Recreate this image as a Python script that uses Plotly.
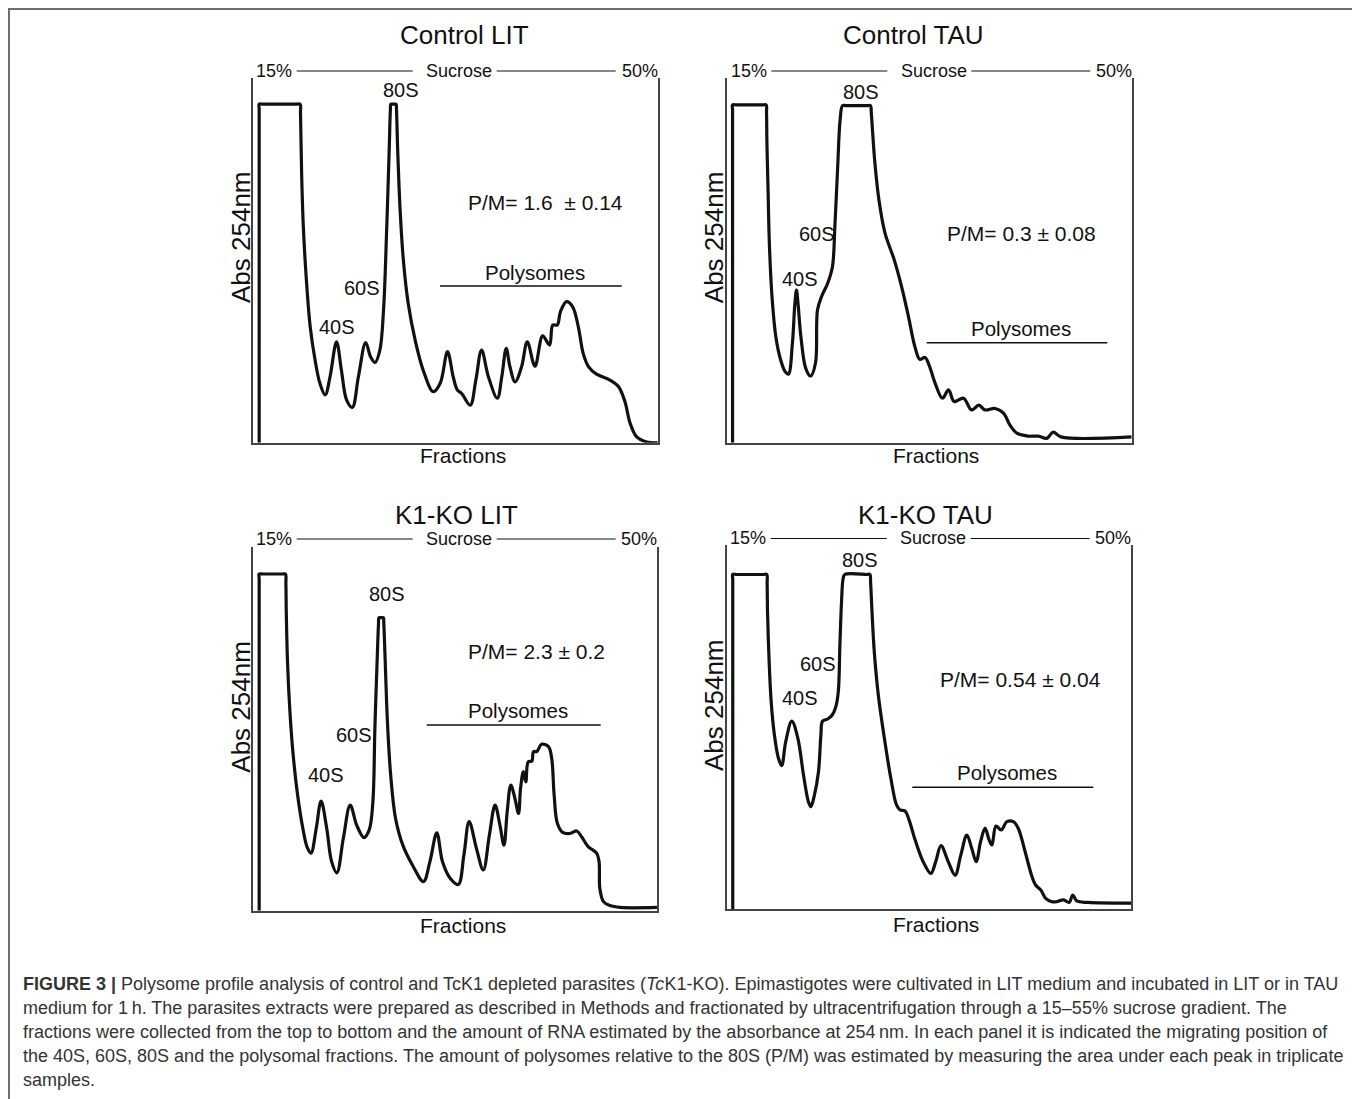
import plotly.graph_objects as go

# The page places the figure 8 px from the top-left corner, so the figure is 8 px smaller
# and all layout positions (measured on the 1360x1099 page) are shifted by that offset.
OFF = 8
W, H = 1360 - OFF, 1099 - OFF
FONT = "Arial, Liberation Sans, sans-serif"

# ---------------- data (fraction position 0-100, absorbance a.u. 0-100) ----------------
ctrl_lit_x = [1.6, 1.6, 1.6, 2.6, 10.8, 11.7, 11.8, 12.1, 12.5, 13.2, 14.2, 15.4, 16.6, 17.9, 19.1, 20.7,
              21.9, 23.2, 24.6, 26.1, 27.9, 29.1, 30.2, 31.4, 32.3, 33.1, 33.7, 34.0, 34.1, 34.4, 35.1,
              35.4, 35.5, 35.8, 36.4, 37.2, 38.4, 40.1, 42.1, 44.6, 46.3, 48.1, 49.5, 50.5, 51.6, 53.7,
              55.1, 56.5, 58.2, 60.4, 61.5, 62.6, 63.5, 64.8, 66.4, 67.8, 69.7, 71.6, 73.3, 74.1, 75.2,
              76.0, 77.5, 79.0, 80.4, 81.6, 82.9, 84.9, 88.2, 90.3, 91.9, 93.2, 94.8, 97.3, 100]
ctrl_lit_y = [0, 91.5, 92.9, 92.9, 92.9, 92.9, 90.5, 73.0, 59.3, 45.6, 31.8, 22.7, 16.3, 13.1, 18.1, 27.7,
              19.9, 11.7, 9.7, 18.1, 27.5, 23.6, 22.0, 25.4, 36.4, 59.3, 80.3, 91.5, 92.9, 92.9, 92.9,
              92.9, 91.5, 80.3, 63.9, 50.1, 38.2, 28.2, 19.9, 14.0, 16.3, 25.0, 18.1, 14.5, 13.5, 10.3,
              17.2, 25.4, 18.1, 12.2, 18.1, 25.9, 20.9, 16.7, 20.9, 27.7, 21.0, 29.3, 26.8, 32.3, 32.3,
              36.0, 38.7, 37.3, 31.8, 24.5, 20.9, 18.8, 17.2, 15.4, 11.3, 5.3, 1.6, 0.2, 0]

ctrl_tau_x = [1.3, 1.3, 1.3, 2.3, 8.7, 9.6, 9.7, 9.8, 10.1, 10.4, 11.0, 12.0, 13.2, 14.3, 15.1, 16.1,
              16.7, 17.1, 17.5, 18.2, 19.4, 20.6, 21.8, 22.3, 23.3, 24.8, 26.0, 26.6, 27.3, 27.9, 28.5,
              29.4, 34.6, 35.4, 35.6, 35.9, 36.5, 37.5, 39.0, 41.3, 43.1, 44.8, 46.4, 47.6, 48.9, 49.9,
              51.4, 53.2, 54.7, 56.1, 58.4, 60.4, 62.2, 63.7, 66.2, 68.3, 69.9, 71.6, 74.4, 76.9, 79.0,
              80.6, 82.5, 100]
ctrl_tau_y = [0, 91.3, 92.7, 92.7, 92.7, 92.7, 90.5, 82.2, 68.4, 54.7, 41.0, 29.1, 22.7, 19.5, 18.8, 27.3,
              38.0, 41.9, 38.0, 29.1, 20.4, 18.3, 21.8, 36.4, 40.1, 43.7, 48.3, 59.3, 75.8, 88.6, 92.5,
              92.5, 92.5, 92.5, 90.5, 85.8, 76.7, 66.6, 57.5, 50.1, 42.8, 34.6, 26.3, 22.9, 23.4, 21.3,
              16.3, 12.2, 14.5, 11.3, 12.2, 9.0, 10.3, 9.0, 9.4, 8.1, 4.8, 2.6, 1.8, 1.8, 1.2,
              2.9, 1.6, 1.6]

ko_lit_x = [1.6, 1.6, 1.6, 2.6, 7.3, 8.1, 8.2, 8.3, 8.6, 9.2, 10.0, 11.1, 12.4, 13.5, 14.4, 15.7, 16.9,
            18.3, 19.5, 20.8, 22.4, 24.1, 25.7, 27.5, 28.8, 29.7, 30.2, 30.8, 31.1, 31.2, 31.5, 32.0,
            32.3, 32.4, 32.7, 33.3, 34.1, 35.3, 37.1, 39.5, 42.2, 43.8, 45.5, 46.9, 48.8, 50.8, 52.2,
            53.5, 55.3, 57.0, 58.5, 59.9, 61.1, 62.1, 62.9, 63.8, 64.8, 65.7, 66.2, 66.9, 67.5, 68.1,
            69.0, 69.4, 70.2, 71.4, 73.1, 73.9, 74.5, 75.3, 76.6, 78.4, 80.1, 81.3, 82.9, 85.0, 85.6,
            85.8, 86.7, 88.3, 90.8, 100]
ko_lit_y = [0, 91.1, 92.5, 92.5, 92.5, 92.5, 90.0, 82.1, 68.4, 54.7, 42.8, 31.8, 22.6, 17.3, 15.8, 22.6,
            30.1, 22.6, 13.5, 10.4, 19.9, 29.0, 23.5, 20.1, 22.2, 29.9, 50.1, 70.2, 79.0, 80.5, 80.5,
            80.5, 80.5, 79.0, 70.2, 51.9, 37.3, 25.4, 18.0, 12.5, 8.0, 13.5, 21.4, 13.5, 8.9, 7.2, 15.3,
            24.5, 17.1, 11.2, 20.8, 29.0, 23.5, 18.0, 27.2, 34.5, 30.9, 26.7, 33.6, 38.2, 35.4, 40.9,
            41.1, 43.7, 43.7, 45.7, 45.1, 41.8, 31.8, 24.0, 21.5, 21.2, 21.9, 20.3, 17.6, 15.8, 13.5,
            6.1, 2.5, 1.4, 0.9, 0.9]

ko_tau_x = [1.5, 1.5, 1.5, 2.5, 9.0, 9.9, 10.0, 10.1, 10.5, 11.0, 11.8, 12.8, 13.6, 14.6, 16.1, 17.6,
            19.0, 20.2, 20.8, 21.7, 22.7, 23.3, 23.7, 25.0, 26.1, 27.0, 27.6, 28.0, 28.4, 28.8, 29.2,
            34.6, 35.4, 35.6, 35.9, 36.5, 37.5, 39.0, 40.6, 42.0, 42.9, 44.1, 45.1, 46.6, 48.6, 50.5,
            51.7, 53.0, 54.8, 56.5, 57.9, 59.4, 60.6, 61.7, 62.8, 63.9, 64.9, 65.6, 66.6, 67.9, 69.3,
            70.9, 72.1, 73.8, 75.4, 76.4, 77.7, 78.9, 80.4, 81.6, 83.3, 84.7, 85.6, 86.6, 89.4, 100]
ko_tau_y = [0, 90.5, 91.9, 91.9, 91.9, 91.9, 89.5, 81.7, 67.9, 57.0, 47.8, 41.4, 39.4, 46.0, 51.6, 46.9,
            36.8, 29.5, 28.1, 31.3, 37.7, 47.8, 51.6, 52.2, 53.3, 55.6, 59.7, 72.5, 84.4, 90.8, 91.9,
            91.9, 91.9, 89.5, 82.6, 70.7, 58.8, 46.9, 35.9, 28.6, 27.2, 26.9, 24.5, 19.0, 13.0, 9.8,
            13.0, 17.4, 13.0, 9.3, 14.8, 20.3, 16.7, 13.0, 18.5, 22.2, 19.0, 17.6, 22.8, 21.7, 24.0,
            24.0, 22.2, 15.8, 9.3, 6.6, 5.2, 2.9, 2.0, 2.0, 2.5, 1.8, 3.8, 2.2, 1.8, 1.6]

titles = ["Control LIT", "Control TAU", "K1-KO LIT", "K1-KO TAU"]
pm_labels = ["P/M= 1.6  \u00b1 0.14", "P/M= 0.3 \u00b1 0.08", "P/M= 2.3 \u00b1 0.2", "P/M= 0.54 \u00b1 0.04"]
peak_names = ["80S", "60S", "40S"]

caption_lines = [
    "<b>FIGURE 3 |</b> Polysome profile analysis of control and TcK1 depleted parasites (<i>Tc</i>K1-KO). "
    "Epimastigotes were cultivated in LIT medium and incubated in LIT or in TAU",
    "medium for 1\u2009h. The parasites extracts were prepared as described in Methods and fractionated by "
    "ultracentrifugation through a 15\u201355% sucrose gradient. The",
    "fractions were collected from the top to bottom and the amount of RNA estimated by the absorbance at "
    "254\u2009nm. In each panel it is indicated the migrating position of",
    "the 40S, 60S, 80S and the polysomal fractions. The amount of polysomes relative to the 80S (P/M) was "
    "estimated by measuring the area under each peak in triplicate",
    "samples.",
]

# ---------------- layout geometry (page pixels) ----------------
panels = [
    dict(x=ctrl_lit_x, y=ctrl_lit_y, box=(252.7, 657.7, 78.3, 442.7), title=(465, 35),
         suc_y=71, abs_xy=(241, 237), frac_xy=(462.5, 455.5), pm_xy=(545, 202),
         poly_xy=(535, 272), poly_line=(440, 621.7, 286),
         peaks=[(401, 90.5), (362, 287.5), (337, 327)]),
    dict(x=ctrl_tau_x, y=ctrl_tau_y, box=(727.3, 1131.7, 78.3, 442.7), title=(913.3, 35),
         suc_y=71, abs_xy=(714.2, 237), frac_xy=(936.2, 455.5), pm_xy=(1021.2, 233.3),
         poly_xy=(1020.8, 328.3), poly_line=(926.7, 1107.3, 342.7),
         peaks=[(860.5, 91.7), (816.7, 233.7), (800, 278.8)]),
    dict(x=ko_lit_x, y=ko_lit_y, box=(252.7, 657.3, 546.7, 910.7), title=(456, 514.5),
         suc_y=539, abs_xy=(241, 706.7), frac_xy=(462.5, 925.7), pm_xy=(536.3, 651),
         poly_xy=(517.8, 710), poly_line=(426.7, 600.7, 725),
         peaks=[(387.2, 594.3), (353.7, 734.7), (325.7, 774.7)]),
    dict(x=ko_tau_x, y=ko_tau_y, box=(726.7, 1131, 545, 909), title=(925.8, 514.5),
         suc_y=538.5, abs_xy=(714, 705), frac_xy=(935.8, 924), pm_xy=(1020, 679.3),
         poly_xy=(1006.7, 772.3), poly_line=(912.3, 1093.3, 787.3),
         peaks=[(860, 560), (818, 663.8), (799.7, 698)]),
]


def px(v):
    return (v - OFF) / W


def py(v):
    return 1 - (v - OFF) / H


fig = go.Figure()
annotations = []
shapes = []


def text(x, y, s, size, color="#111", xanchor="center", angle=0):
    annotations.append(dict(x=px(x), y=py(y), xref="paper", yref="paper", text=s, showarrow=False,
                            xanchor=xanchor, yanchor="middle", textangle=angle, borderpad=0,
                            font=dict(family=FONT, size=size, color=color)))


def hline(x0, x1, y, width=1.2, color="#111"):
    shapes.append(dict(type="line", xref="paper", yref="paper", x0=px(x0), x1=px(x1), y0=py(y), y1=py(y),
                       line=dict(color=color, width=width)))


for i, p in enumerate(panels):
    k = "" if i == 0 else str(i + 1)
    l, r, t, b = p["box"]
    fig.add_trace(go.Scatter(x=p["x"], y=p["y"], mode="lines", xaxis="x" + k, yaxis="y" + k,
                             line=dict(color="#111", width=3.2, shape="spline", smoothing=1),
                             hoverinfo="skip", showlegend=False))
    axcommon = dict(showgrid=False, zeroline=False, showticklabels=False, ticks="", showline=True,
                    linecolor="#444", linewidth=1.6, range=[0, 100], fixedrange=True)
    fig.update_layout(**{
        "xaxis" + k: dict(domain=[px(l), px(r)], anchor="y" + k, **axcommon),
        "yaxis" + k: dict(domain=[py(b), py(t)], anchor="x" + k, mirror=True, **axcommon),
    })
    # title
    text(p["title"][0], p["title"][1], titles[i], 26)
    # sucrose gradient row (offsets relative to panel left edge)
    sy = p["suc_y"]
    text(l + 2.3, sy, "15%", 18, xanchor="left")
    hline(l + 44, l + 160, sy)
    text(l + 206.5, sy, "Sucrose", 18)
    hline(l + 244, l + 363, sy)
    text(r + 0.8, sy, "50%", 18, xanchor="right")
    # axis titles
    text(p["abs_xy"][0], p["abs_xy"][1], "Abs 254nm", 26, angle=-90)
    text(p["frac_xy"][0], p["frac_xy"][1], "Fractions", 21)
    # P/M ratio and polysomes
    text(p["pm_xy"][0], p["pm_xy"][1], pm_labels[i], 21)
    text(p["poly_xy"][0], p["poly_xy"][1], "Polysomes", 20.5)
    pl = p["poly_line"]
    hline(pl[0], pl[1], pl[2], width=1.4)
    for name, (lx, ly) in zip(peak_names, p["peaks"]):
        text(lx, ly, name, 20)

# caption
cap_y = [984, 1008, 1032, 1056, 1080]
for s, y in zip(caption_lines, cap_y):
    text(22, y, s, 18, color="#333", xanchor="left")

# outer frame
shapes.append(dict(type="rect", xref="paper", yref="paper", x0=px(9), x1=px(1355.5), y0=-0.05, y1=py(9),
                   line=dict(color="#6e6e6e", width=2), fillcolor="rgba(0,0,0,0)"))

fig.update_layout(width=W, height=H, margin=dict(l=0, r=0, t=0, b=0),
                  paper_bgcolor="white", plot_bgcolor="white", showlegend=False,
                  annotations=annotations, shapes=shapes)

fig.write_html("out.html")
